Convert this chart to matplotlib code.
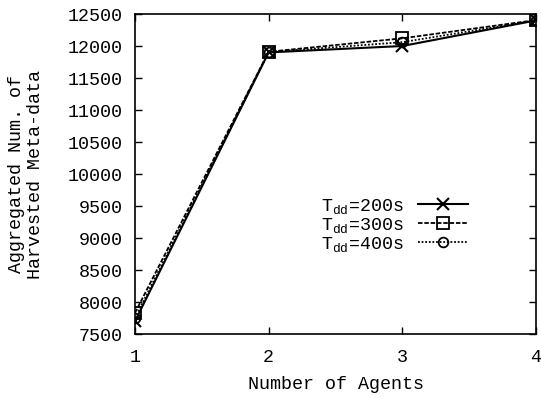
import matplotlib
matplotlib.use("Agg")
import matplotlib.pyplot as plt

plt.rcParams['font.family'] = ['Liberation Mono', 'DejaVu Sans Mono']
plt.rcParams['mathtext.fontset'] = 'custom'
plt.rcParams['mathtext.rm'] = 'Liberation Mono'
plt.rcParams['mathtext.it'] = 'Liberation Mono'

agents = [1, 2, 3, 4]
t200 = [7700, 11900, 12000, 12400]
t300 = [7830, 11910, 12120, 12405]
t400 = [7750, 11905, 12060, 12400]
labels = [r'T$_{\rm dd}$=200s', r'T$_{\rm dd}$=300s', r'T$_{\rm dd}$=400s']

fig = plt.figure(figsize=(5.41, 3.98), dpi=100)
ax = fig.add_axes([0.2495, 0.1608, 0.7413, 0.804])

fs = 13.2
ax.plot(agents, t200, color='black', lw=1.5, ls='-', marker='x', ms=8, mew=1.5, label=labels[0])
ax.plot(agents, t300, color='black', lw=1.3, ls=(0, (2.5, 1)), marker='s', ms=8, mfc='none', mew=1.3, label=labels[1])
ax.plot(agents, t400, color='black', lw=1.3, ls=(0, (1, 1)), marker='o', ms=7, mfc='none', mew=1.3, label=labels[2])

ax.set_xlim(1, 4)
ax.set_ylim(7500, 12500)
ax.set_xticks(agents)
ax.set_yticks(range(7500, 12501, 500))
ax.tick_params(direction='in', top=True, right=True, length=5, width=1, labelsize=fs)
ax.tick_params(axis='y', pad=9)
ax.tick_params(axis='x', pad=11)
for s in ax.spines.values():
    s.set_linewidth(1.2)
ax.set_xlabel('Number of Agents', fontsize=fs, labelpad=7)
ax.set_ylabel('Aggregated Num. of\nHarvested Meta-data', fontsize=fs, labelpad=17, linespacing=1.15)

leg = ax.legend(loc='center left', bbox_to_anchor=(0.44, 0.34), frameon=False, markerfirst=False,
                fontsize=fs, handlelength=2.7, handletextpad=0.8, labelspacing=0.0, borderpad=0)
fig.savefig('out.png', dpi=100)
